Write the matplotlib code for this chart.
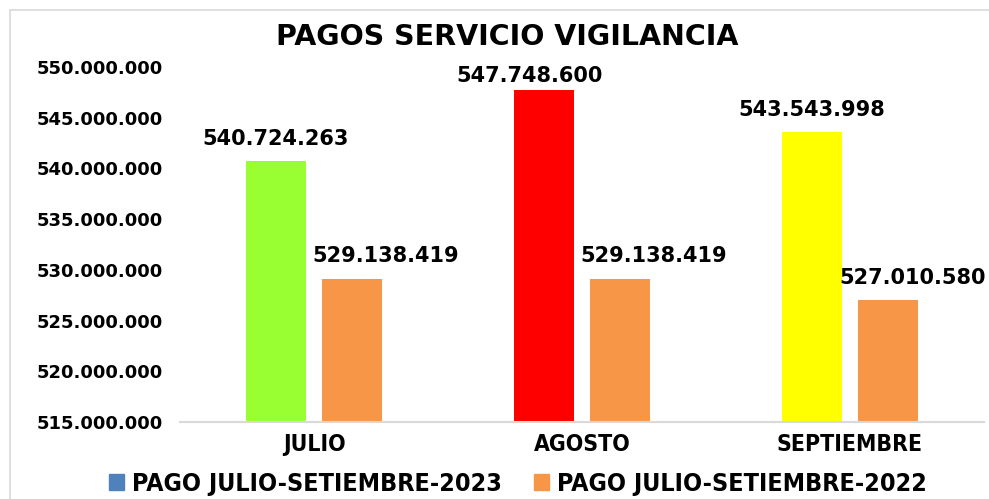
import numpy as np
import matplotlib.pyplot as plt
from matplotlib.patches import Rectangle, Patch
from matplotlib.ticker import FuncFormatter

meses = ['JULIO', 'AGOSTO', 'SEPTIEMBRE']
pago_2023 = [540724263, 547748600, 543543998]
pago_2022 = [529138419, 529138419, 527010580]
colores_2023 = ['#99ff33', '#ff0000', '#ffff00']
color_2022 = '#f79646'
color_leyenda_2023 = '#4f81bd'

def miles(v):
    return f'{v:,.0f}'.replace(',', '.')

fig = plt.figure(figsize=(9.89, 4.99), dpi=100)
# marco gris del grafico
fig.patches.append(Rectangle((10 / 989, -0.1), 1.1, (489 / 499) + 0.1,
                             transform=fig.transFigure, fill=False,
                             edgecolor='#d9d9d9', linewidth=1.2))

ax = fig.add_axes([180 / 989, 77 / 499, 804 / 989, 355 / 499])
x = np.arange(len(meses))
ancho = 0.224
desp = 0.142

b1 = ax.bar(x - desp, pago_2023, ancho, color=colores_2023)
b2 = ax.bar(x + desp, pago_2022, ancho, color=color_2022)

ax.set_ylim(515000000, 550000000)
ax.set_xlim(-0.5, 2.5)
ax.set_yticks(np.arange(515000000, 550000001, 5000000))
ax.yaxis.set_major_formatter(FuncFormatter(lambda v, p: miles(v)))
for s in ['top', 'right', 'left']:
    ax.spines[s].set_visible(False)
ax.spines['bottom'].set_color('#d9d9d9')
ax.spines['bottom'].set_linewidth(1.5)
ax.tick_params(axis='y', length=0, pad=12, labelsize=13)
ax.tick_params(axis='x', length=0, pad=8)
for t in ax.get_yticklabels():
    t.set_fontweight('bold')
ax.set_xticks(x)
ax.set_xticklabels(meses, fontsize=16.5, fontweight='bold', fontstretch='condensed')

# etiquetas de valores
off_2023 = [(0, 9), (-10, 3), (0, 9)]
off_2022 = [(24, 9), (24, 9), (18, 9)]
for rect, v, off in zip(b1, pago_2023, off_2023):
    ax.annotate(miles(v), (rect.get_x() + rect.get_width() / 2, v),
                xytext=off, textcoords='offset points', ha='center', va='bottom',
                fontsize=15, fontweight='bold', annotation_clip=False)
for rect, v, off in zip(b2, pago_2022, off_2022):
    ax.annotate(miles(v), (rect.get_x() + rect.get_width() / 2, v),
                xytext=off, textcoords='offset points', ha='center', va='bottom',
                fontsize=15, fontweight='bold', annotation_clip=False)

fig.text(507 / 989, 1 - 37 / 499, 'PAGOS SERVICIO VIGILANCIA', ha='center', va='center',
         fontsize=20.5, fontweight='bold')

handles = [Patch(color=color_leyenda_2023, label='PAGO JULIO-SETIEMBRE-2023'),
           Patch(color=color_2022, label='PAGO JULIO-SETIEMBRE-2022')]
fig.legend(handles=handles, loc='center', bbox_to_anchor=(518 / 989, 1 - 484 / 499),
           ncol=2, frameon=False, handlelength=0.6, handleheight=0.6,
           handletextpad=0.3, columnspacing=1.3, borderpad=0.2,
           prop={'size': 18, 'weight': 'bold', 'stretch': 'condensed'})

fig.savefig('out.png', dpi=100)
